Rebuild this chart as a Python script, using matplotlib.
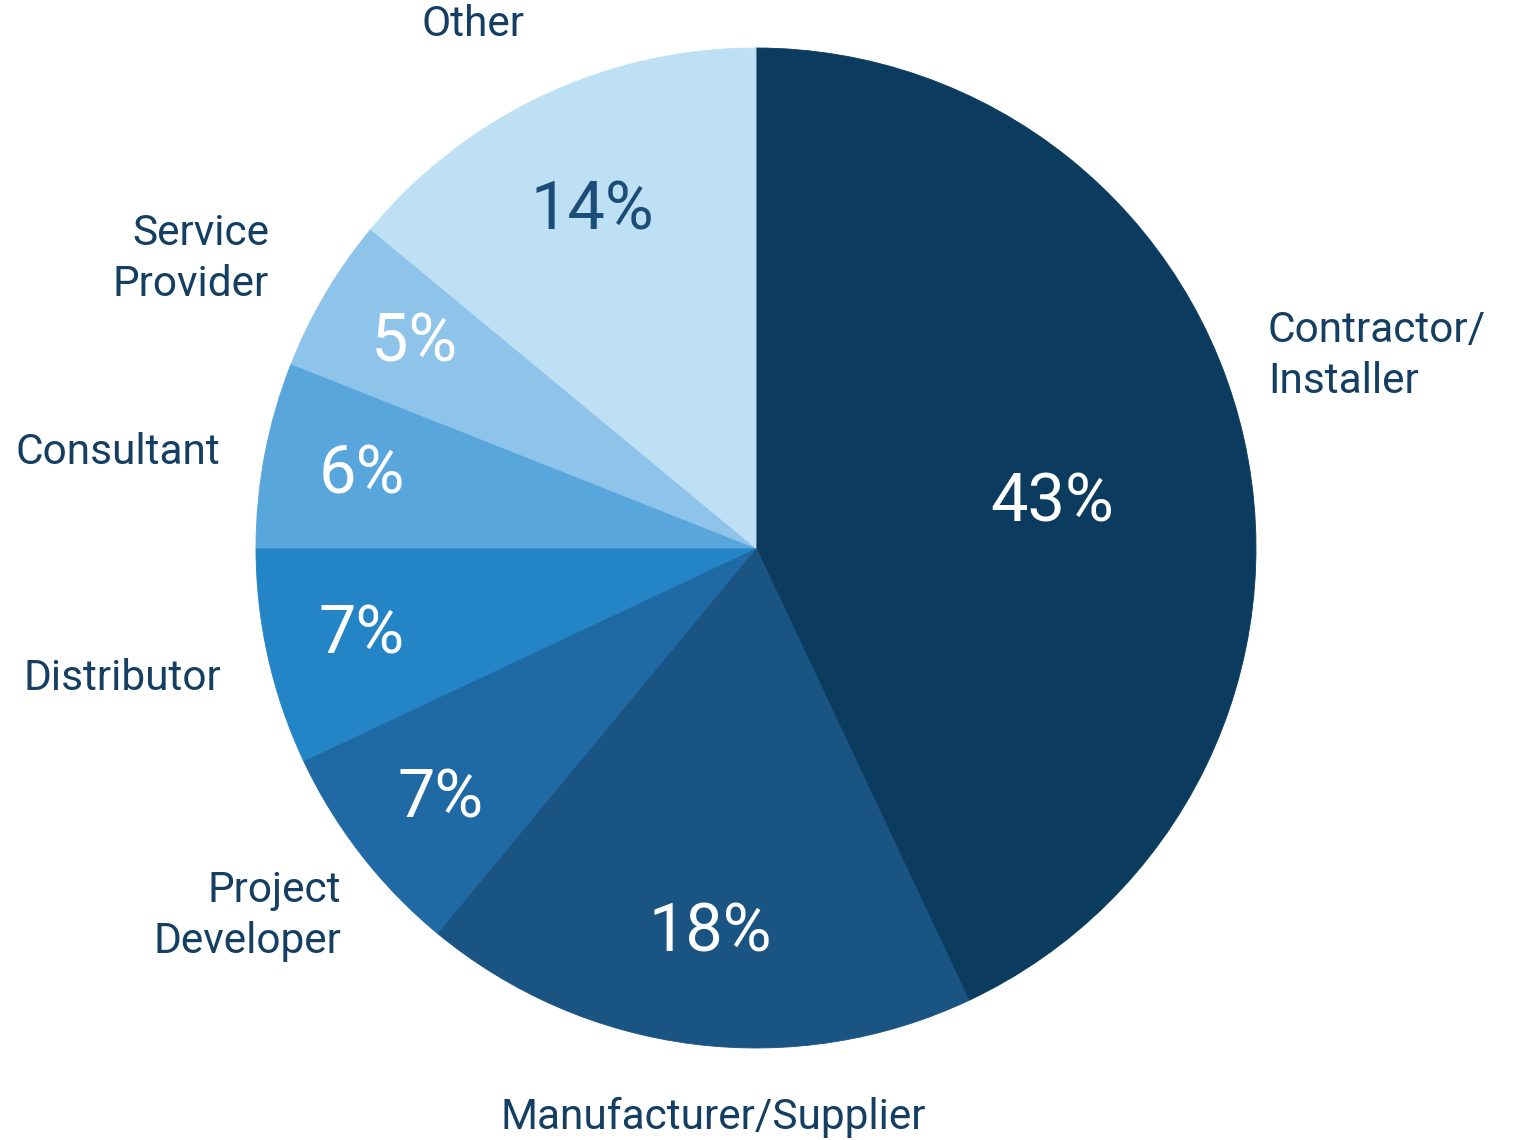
import matplotlib.pyplot as plt

plt.rcParams['font.family'] = ['Roboto', 'DejaVu Sans']

# respondent type shares (%)
categories = ['Contractor/\nInstaller', 'Manufacturer/Supplier', 'Project\nDeveloper',
              'Distributor', 'Consultant', 'Service\nProvider', 'Other']
shares = [43, 18, 7, 7, 6, 5, 14]
colors = ['#0b3b5e', '#1a5482', '#1f6aa5', '#2384c6', '#59a6dc', '#8fc4ea', '#bee0f4']
pct_colors = ['white', 'white', 'white', 'white', 'white', 'white', '#1b4d78']

W, H = 1519, 1140
text_dark = '#143e62'

# pixel layout (x, y from top-left)
pct_pos = [(1052, 504), (710, 933), (441, 800), (362, 635), (362, 475), (414, 344), (592, 211)]
lab_pos = [(1268, 356, 'left'), (713, 1117, 'center'), (341, 916, 'right'),
           (221, 678, 'right'), (220, 453, 'right'), (269, 259, 'right'), (473, 25, 'center')]

fig = plt.figure(figsize=(W / 100, H / 100), dpi=100)
ax = fig.add_axes([0, 0, 1, 1])

ax.pie(shares, colors=colors, startangle=90, counterclock=False,
       center=(756, H - 548), radius=500, frame=True,
       wedgeprops=dict(linewidth=0.6))
for w, c in zip(ax.patches, colors):
    w.set_edgecolor(c)

ax.set_xlim(0, W)
ax.set_ylim(0, H)
ax.set_aspect('equal')
ax.axis('off')

for v, (x, y), c in zip(shares, pct_pos, pct_colors):
    ax.text(x, H - y, f'{v}%', ha='center', va='center', fontsize=48, color=c)

for name, (x, y, ha) in zip(categories, lab_pos):
    ax.text(x, H - y, name, ha=ha, va='center', fontsize=30.5, color=text_dark,
            linespacing=1.3, multialignment=ha)

fig.savefig('out.png', dpi=100, facecolor='white')
